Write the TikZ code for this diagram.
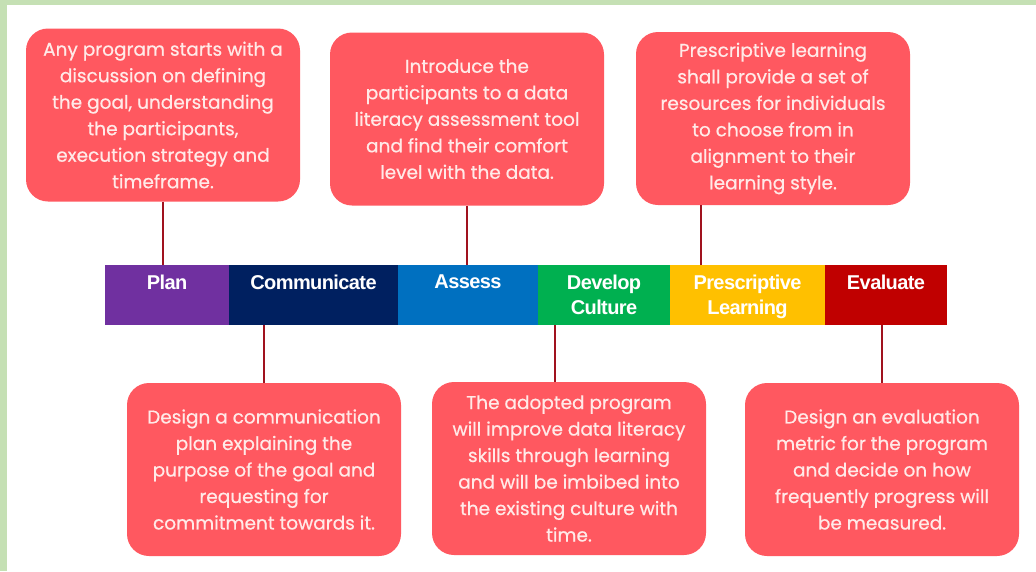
\documentclass[tikz,border=0pt]{standalone}
\usepackage{fontspec}
\setmainfont{Poppins}
\newfontfamily\notefont[FakeBold=0.6]{Poppins}
\newfontfamily\barfont[LetterSpace=-3]{Liberation Sans}
\usetikzlibrary{positioning}

\definecolor{framegreen}{RGB}{197,224,180}
\definecolor{notered}{RGB}{255,88,96}
\definecolor{notetext}{RGB}{255,234,232}
\definecolor{linkred}{RGB}{160,18,30}
\definecolor{cplan}{RGB}{112,48,160}
\definecolor{ccomm}{RGB}{0,32,96}
\definecolor{cassess}{RGB}{0,112,192}
\definecolor{cculture}{RGB}{0,176,80}
\definecolor{cpres}{RGB}{255,192,0}
\definecolor{ceval}{RGB}{192,0,0}

\tikzstyle{note} = [rounded corners=22pt, fill=notered, text=notetext, minimum width=274pt, minimum height=173pt, inner sep=0pt, align=center, font=\notefont\fontsize{18.5}{26.5}\selectfont]
\tikzstyle{seg} = [minimum height=60pt, inner sep=0pt, outer sep=0pt]
\tikzstyle{lab} = [text=white, inner sep=0pt, align=center, font=\barfont\bfseries\fontsize{20}{25}\selectfont]
\tikzstyle{link} = [draw=linkred, line width=2.5pt]

\begin{document}
\begin{tikzpicture}[x=1pt, y=-1pt]
%frame
\fill[framegreen] (0,0) rectangle (1036,571);
\fill[white] (7,5) rectangle (1036,571);
\useasboundingbox (0,0) rectangle (1036,571);
%begin bar
\node[seg, fill=cplan, minimum width=124pt, anchor=west] (plan) at (105,295) {};
\node[seg, fill=ccomm, minimum width=169pt, right=0pt of plan] (comm) {};
\node[seg, fill=cassess, minimum width=140pt, right=0pt of comm] (assess) {};
\node[seg, fill=cculture, minimum width=132pt, right=0pt of assess] (culture) {};
\node[seg, fill=cpres, minimum width=155pt, right=0pt of culture] (pres) {};
\node[seg, fill=ceval, minimum width=122pt, right=0pt of pres] (eval) {};
\node[lab, below=10pt of plan.north] (planlab) {Plan};
\node[lab, below=10pt of comm.north] (commlab) {Communicate};
\node[lab, below=10pt of assess.north] (assesslab) {Assess};
\node[lab, below=10pt of culture.north] (culturelab) {Develop\\Culture};
\node[lab, below=10pt of pres.north] (preslab) {Prescriptive\\Learning};
\node[lab, below=10pt of eval.north] (evallab) {Evaluate};
%end bar
%begin top notes
\node[note] (b1) at (163,115) {Any program starts with a\\discussion on defining\\the goal, understanding\\the participants,\\execution strategy and\\timeframe.};
\node[note] (b2) at (467,119) {Introduce the\\participants to a data\\literacy assessment tool\\and find their comfort\\level with the data.};
\node[note] (b3) at (773,118.5) {Prescriptive learning\\shall provide a set of\\resources for individuals\\to choose from in\\alignment to their\\learning style.};
%end top notes
%begin bottom notes
\node[note] (b4) at (264,469.5) {Design a communication\\plan explaining the\\purpose of the goal and\\requesting for\\commitment towards it.};
\node[note] (b5) at (569,468.5) {The adopted program\\will improve data literacy\\skills through learning\\and will be imbibed into\\the existing culture with\\time.};
\node[note] (b6) at (882,469.5) {Design an evaluation\\metric for the program\\and decide on how\\frequently progress will\\be measured.};
%end bottom notes
%begin links
\coordinate (c3) at (701,0);
\coordinate (c5) at (555,0);
\draw[link] (b1.south) -- (b1.south |- plan.north);
\draw[link] (b2.south) -- (b2.south |- assess.north);
\draw[link] (c3 |- b3.south) -- (c3 |- pres.north);
\draw[link] (b4.north) -- (b4.north |- comm.south);
\draw[link] (c5 |- b5.north) -- (c5 |- culture.south);
\draw[link] (b6.north) -- (b6.north |- eval.south);
%end links
\end{tikzpicture}
\end{document}
